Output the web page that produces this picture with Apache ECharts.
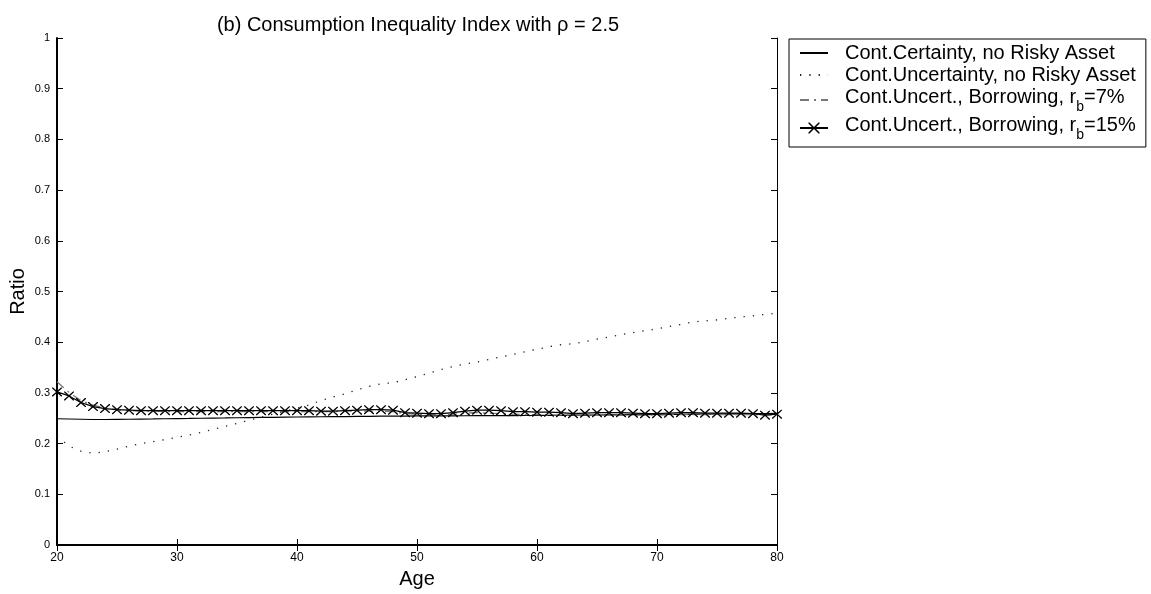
<!DOCTYPE html>
<html>
<head>
<meta charset="utf-8">
<script src="https://cdn.jsdelivr.net/npm/echarts@6/dist/echarts.min.js"></script>
<style>
  html, body { margin: 0; padding: 0; background: #fff; }
  #chart { width: 1151px; height: 594px; }
</style>
</head>
<body>
<div id="chart"></div>
<script>
const ages = [20, 21, 22, 23, 24, 25, 26, 27, 28, 29, 30, 31, 32, 33, 34, 35, 36, 37, 38, 39,
  40, 41, 42, 43, 44, 45, 46, 47, 48, 49, 50, 51, 52, 53, 54, 55, 56, 57, 58, 59,
  60, 61, 62, 63, 64, 65, 66, 67, 68, 69, 70, 71, 72, 73, 74, 75, 76, 77, 78, 79, 80]

const certaintyNoRisky = [0.249, 0.2485, 0.248, 0.2475, 0.2475, 0.2478, 0.248, 0.2483, 0.2486, 0.249,
  0.2493, 0.2496, 0.25, 0.2503, 0.2506, 0.251, 0.2513, 0.2516, 0.2519, 0.2522,
  0.2525, 0.2528, 0.253, 0.2532, 0.2534, 0.2536, 0.2538, 0.254, 0.2542, 0.2543,
  0.2545, 0.2546, 0.2547, 0.2548, 0.2549, 0.255, 0.2551, 0.2552, 0.2553, 0.2554,
  0.2555, 0.2557, 0.2558, 0.256, 0.2562, 0.2564, 0.2566, 0.2568, 0.257, 0.2572,
  0.2574, 0.2576, 0.2578, 0.258, 0.2582, 0.2584, 0.2586, 0.2588, 0.259, 0.2592, 0.2595]

const uncertaintyNoRisky = [0.215, 0.195, 0.185, 0.181, 0.184, 0.189, 0.195, 0.2, 0.204, 0.208,
  0.212, 0.217, 0.222, 0.228, 0.234, 0.24, 0.246, 0.252, 0.258, 0.264,
  0.27, 0.276, 0.285, 0.292, 0.298, 0.306, 0.313, 0.318, 0.32, 0.326,
  0.332, 0.339, 0.346, 0.352, 0.357, 0.361, 0.366, 0.371, 0.376, 0.381,
  0.386, 0.391, 0.395, 0.397, 0.401, 0.406, 0.41, 0.415, 0.419, 0.423,
  0.426, 0.431, 0.435, 0.44, 0.442, 0.444, 0.447, 0.45, 0.452, 0.455, 0.457]

const borrowing7 = [0.322, 0.301, 0.285, 0.276, 0.27, 0.267, 0.265, 0.264, 0.264, 0.263,
  0.263, 0.263, 0.263, 0.263, 0.263, 0.263, 0.263, 0.263, 0.263, 0.263,
  0.263, 0.263, 0.263, 0.263, 0.264, 0.264, 0.264, 0.264, 0.263, 0.259,
  0.258, 0.257, 0.257, 0.258, 0.26, 0.261, 0.26, 0.259, 0.258, 0.257,
  0.257, 0.256, 0.256, 0.256, 0.256, 0.256, 0.256, 0.256, 0.256, 0.256,
  0.256, 0.257, 0.257, 0.257, 0.257, 0.257, 0.257, 0.257, 0.257, 0.256, 0.257]

const borrowing15 = [0.302, 0.294, 0.281, 0.273, 0.269, 0.267, 0.266, 0.265, 0.265, 0.265,
  0.265, 0.265, 0.265, 0.265, 0.265, 0.265, 0.265, 0.265, 0.265, 0.265,
  0.265, 0.265, 0.264, 0.264, 0.265, 0.266, 0.267, 0.267, 0.266, 0.261,
  0.26, 0.259, 0.259, 0.261, 0.264, 0.266, 0.266, 0.265, 0.263, 0.263,
  0.262, 0.262, 0.261, 0.259, 0.26, 0.261, 0.261, 0.261, 0.26, 0.259,
  0.259, 0.26, 0.261, 0.261, 0.26, 0.26, 0.26, 0.26, 0.259, 0.256, 0.258]

const seriesNames = [
  'Cont.Certainty, no Risky Asset',
  'Cont.Uncertainty, no Risky Asset',
  'Cont.Uncert., Borrowing, r_b=7%',
  'Cont.Uncert., Borrowing, r_b=15%'
]

const FONT = "'Liberation Sans', Arial, Helvetica, sans-serif"
// thin X marker, drawn as a filled path
const CROSS = 'path://M0,0L1,0L5,4L9,0L10,0L10,1L6,5L10,9L10,10L9,10L5,6L1,10L0,10L0,9L4,5L0,1Z'

function pairs(ys) {
  return ages.map((a, i) => [a, ys[i]])
}

function legendLabel(name) {
  const parts = name.split('r_b')
  if (parts.length === 1) return '{m|' + name + '}'
  return '{m|' + parts[0] + 'r}{s|b}{m|' + parts[1] + '}'
}

const chart = echarts.init(document.getElementById('chart'), null, { renderer: 'canvas' })

const hideDot = { opacity: 0, color: 'transparent', borderWidth: 0 }

chart.setOption({
  animation: false,
  backgroundColor: '#fff',
  title: {
    text: '(b) Consumption Inequality Index with ρ = 2.5',
    left: 413,
    top: 10,
    textAlign: 'center',
    textStyle: { color: '#000', fontSize: 20, fontWeight: 'normal', fontFamily: FONT }
  },
  grid: { left: 57, right: 374, top: 38, bottom: 49, outerBoundsMode: 'none', containLabel: false },
  legend: {
    orient: 'vertical',
    left: 789,
    top: 39,
    padding: [3, 10, 5, 10],
    itemGap: 0,
    itemWidth: 28,
    itemHeight: 14,
    borderColor: '#000',
    borderWidth: 1,
    selectedMode: false,
    data: [
      { name: seriesNames[0], itemStyle: hideDot },
      { name: seriesNames[1], itemStyle: hideDot },
      { name: seriesNames[2], itemStyle: hideDot },
      { name: seriesNames[3] }
    ],
    formatter: legendLabel,
    textStyle: {
      color: '#000',
      fontSize: 20,
      lineHeight: 22,
      fontFamily: FONT,
      padding: [0, 0, 0, 12],
      rich: {
        m: { fontSize: 20, lineHeight: 22, verticalAlign: 'top', padding: [1, 0, 0, 0], fontFamily: FONT, color: '#000' },
        s: { fontSize: 14, lineHeight: 28, verticalAlign: 'top', padding: [14, 0, 0, 0], fontFamily: FONT, color: '#000' }
      }
    }
  },
  xAxis: [
    {
      type: 'value',
      min: 20,
      max: 80,
      interval: 10,
      name: 'Age',
      nameLocation: 'middle',
      nameGap: 24,
      nameMoveOverlap: false,
      nameTextStyle: { color: '#000', fontSize: 20, fontFamily: FONT },
      axisLine: { lineStyle: { color: '#000', width: 2 } },
      axisTick: { inside: true, length: 6, lineStyle: { color: '#000' } },
      axisLabel: { margin: 7, color: '#000', fontSize: 12, fontFamily: FONT },
      splitLine: { show: false }
    },
    {
      type: 'value',
      position: 'top',
      min: 20,
      max: 80,
      interval: 10,
      axisLine: { lineStyle: { color: '#000', width: 1 } },
      axisTick: { inside: true, length: 6, lineStyle: { color: '#000' } },
      axisLabel: { show: false },
      splitLine: { show: false }
    }
  ],
  yAxis: [
    {
      type: 'value',
      min: 0,
      max: 1,
      interval: 0.1,
      name: 'Ratio',
      nameLocation: 'middle',
      nameGap: 29,
      nameMoveOverlap: false,
      nameTextStyle: { color: '#000', fontSize: 20, fontFamily: FONT },
      axisLine: { show: true, lineStyle: { color: '#000', width: 2 } },
      axisTick: { show: true, inside: true, length: 6, lineStyle: { color: '#000' } },
      axisLabel: { margin: 7, color: '#000', fontSize: 11, fontFamily: FONT },
      splitLine: { show: false }
    },
    {
      type: 'value',
      position: 'right',
      min: 0,
      max: 1,
      interval: 0.1,
      axisLine: { show: true, lineStyle: { color: '#000', width: 1 } },
      axisTick: { show: true, inside: true, length: 6, lineStyle: { color: '#000' } },
      axisLabel: { show: false },
      splitLine: { show: false }
    }
  ],
  series: [
    {
      name: seriesNames[0],
      type: 'line',
      data: pairs(certaintyNoRisky),
      symbol: 'none',
      lineStyle: { color: '#000', width: 1.2, type: 'solid' },
      itemStyle: { color: '#000' }
    },
    {
      name: seriesNames[1],
      type: 'line',
      data: pairs(uncertaintyNoRisky),
      symbol: 'none',
      lineStyle: { color: '#222', width: 1.3, type: [1.3, 8] },
      itemStyle: { color: '#222' }
    },
    {
      name: seriesNames[2],
      type: 'line',
      data: pairs(borrowing7),
      symbol: 'none',
      lineStyle: { color: '#777', width: 1.3, type: [9, 5, 2, 5] },
      itemStyle: { color: '#777' }
    },
    {
      name: seriesNames[3],
      type: 'line',
      data: pairs(borrowing15),
      symbol: CROSS,
      symbolSize: [10, 9],
      lineStyle: { color: '#000', width: 1.2 },
      itemStyle: { color: '#000' }
    }
  ]
})
</script>
</body>
</html>
